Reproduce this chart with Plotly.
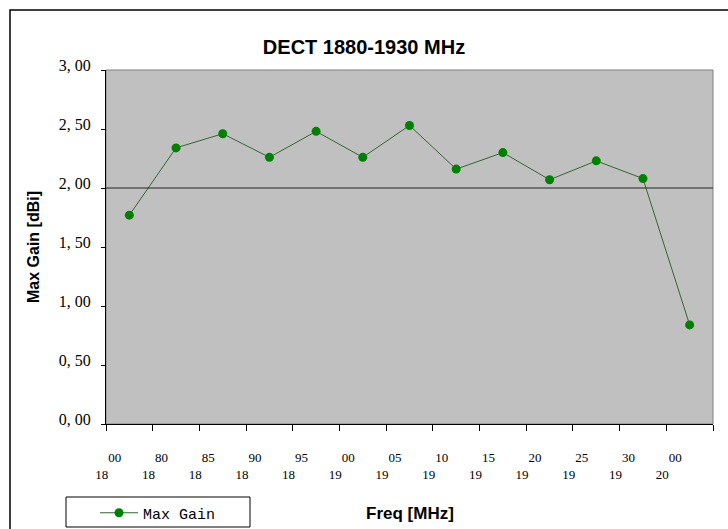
import plotly.graph_objects as go

# ---- data ----
FREQ = ["1800", "1880", "1885", "1890", "1895", "1900", "1905",
        "1910", "1915", "1920", "1925", "1930", "2000"]
TICK_TOP = ["00", "80", "85", "90", "95", "00", "05",
            "10", "15", "20", "25", "30", "00"]
TICK_BOTTOM = ["18", "18", "18", "18", "18", "19", "19",
               "19", "19", "19", "19", "19", "20"]
GAIN = [1.77, 2.34, 2.46, 2.26, 2.48, 2.26, 2.53,
        2.16, 2.30, 2.07, 2.23, 2.08, 0.84]
Y_TICKS = [0, 0.5, 1.0, 1.5, 2.0, 2.5, 3.0]
Y_TICK_TEXT = ["0, 00", "0, 50", "1, 00", "1, 50", "2, 00", "2, 50", "3, 00"]
REF_LINE = 2.0

# ---- layout geometry (pixels) ----
W, H = 728, 529
L, R, T, B = 106, 15, 70, 105
PW, PH = W - L - R, H - T - B


def px(x):
    return (x - L) / PW


def py(y):
    return (H - B - y) / PH


NB = "\u00a0" * 4
tick_text = [NB + t + "<br>" + b + NB for t, b in zip(TICK_TOP, TICK_BOTTOM)]

fig = go.Figure()
fig.add_trace(go.Scatter(
    x=FREQ, y=GAIN, mode="lines+markers", name="Max Gain",
    line=dict(color="#336633", width=1),
    marker=dict(color="#008000", size=9, symbol="circle"),
))

fig.update_layout(
    width=W, height=H,
    margin=dict(l=L, r=R, t=T, b=B, pad=0, autoexpand=False),
    paper_bgcolor="white",
    plot_bgcolor="#C0C0C0",
    title=dict(text="<b>DECT 1880-1930 MHz</b>", x=0.5, xref="container",
               xanchor="center", y=1 - 47 / H, yanchor="middle",
               font=dict(family="Liberation Sans, Arial", size=20, color="black")),
    showlegend=True,
    legend=dict(x=px(95), xanchor="left", y=py(513), yanchor="middle",
                bgcolor="rgba(0,0,0,0)", borderwidth=0, itemwidth=38,
                font=dict(family="Liberation Mono, monospace", size=15, color="black")),
    xaxis=dict(
        type="category", categoryorder="array", categoryarray=FREQ,
        range=[-0.5, len(FREQ) - 0.5], automargin=False,
        tickmode="array", tickvals=FREQ, ticktext=tick_text,
        tickson="boundaries", ticks="outside", ticklen=6, tickcolor="black",
        ticklabelshift=-21, ticklabelstandoff=21,
        showline=True, linecolor="black", linewidth=1,
        showgrid=False, zeroline=False,
        tickfont=dict(family="Liberation Serif, serif", size=13, color="black"),
    ),
    yaxis=dict(
        range=[0, 3], tickmode="array", tickvals=Y_TICKS, ticktext=Y_TICK_TEXT,
        automargin=False,
        ticks="outside", ticklen=4, tickcolor="black",
        ticklabelstandoff=7, ticklabelshift=-5,
        showline=True, linecolor="black", linewidth=1,
        showgrid=False, zeroline=False,
        tickfont=dict(family="Liberation Serif, serif", size=16, color="black"),
    ),
    shapes=[
        # plot area border (gray)
        dict(type="rect", xref="paper", yref="paper", x0=0, x1=1, y0=0, y1=1,
             line=dict(color="#808080", width=1), layer="below"),
        # reference line at 2.00
        dict(type="line", xref="paper", yref="y", x0=0, x1=1, y0=REF_LINE, y1=REF_LINE,
             line=dict(color="#222222", width=1)),
        # outer frame
        dict(type="rect", xref="paper", yref="paper", x0=px(10), x1=px(760),
             y0=py(560), y1=py(10), line=dict(color="black", width=1.5)),
        # legend box
        dict(type="rect", xref="paper", yref="paper", x0=px(66), x1=px(250),
             y0=py(527), y1=py(497), line=dict(color="black", width=1)),
    ],
    annotations=[
        dict(text="<b>Max Gain [dBi]</b>", xref="paper", yref="paper",
             x=px(33), y=0.5, xanchor="center", yanchor="middle", textangle=-90,
             showarrow=False,
             font=dict(family="Liberation Sans, Arial", size=16, color="black")),
        dict(text="<b>Freq [MHz]</b>", xref="paper", yref="paper",
             x=0.5, y=py(513), xanchor="center", yanchor="middle",
             showarrow=False,
             font=dict(family="Liberation Sans, Arial", size=17, color="black")),
    ],
)

fig.write_html("out.html", config={"displayModeBar": False},
               post_script="document.body.style.margin='0';document.body.style.overflow='hidden';")
